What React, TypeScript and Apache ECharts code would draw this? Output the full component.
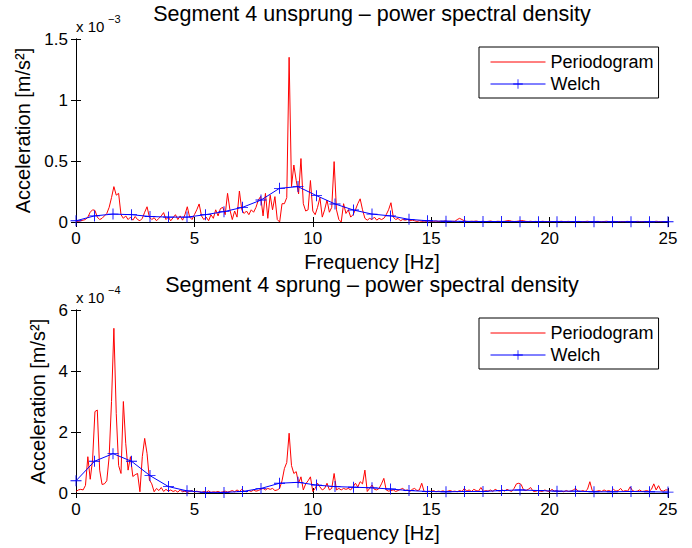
import { useEffect, useRef } from 'react';
import * as echarts from 'echarts';

// Frequency grids (Hz)
const PERIODOGRAM_STEP = 0.1;
const WELCH_STEP = 25 / 32;
const xTicks = [0, 5, 10, 15, 20, 25];

// Top panel: unsprung, values in units of 1e-3 m/s^2
const unsprungPeriodogram = [
  0.005, 0.005, 0.01, 0.015, 0.02, 0.04, 0.08, 0.1, 0.095, 0.04,
  0.02, 0.03, 0.05, 0.07, 0.12, 0.2, 0.29, 0.22, 0.235, 0.06,
  0.03, 0.05, 0.02, 0.04, 0.015, 0.045, 0.02, 0.01, 0.03, 0.08,
  0.125, 0.04, 0.02, 0.035, 0.01, 0.03, 0.05, 0.077, 0.02, 0.04,
  0.01, 0.035, 0.06, 0.02, 0.05, 0.015, 0.06, 0.125, 0.04, 0.02,
  0.06, 0.1, 0.148, 0.05, 0.02, 0.04, 0.01, 0.06, 0.03, 0.1,
  0.05, 0.11, 0.12, 0.06, 0.235, 0.1, 0.02, 0.09, 0.04, 0.254,
  0.1, 0.07, 0.09, 0.06, 0.1, 0.08, 0.12, 0.18, 0.21, 0.05,
  0.235, 0.03, 0.22, 0.1, 0.208, 0.02, 0.0, 0.15, 0.15, 0.2,
  1.35, 0.29, 0.467, 0.34, 0.23, 0.52, 0.15, 0.09, 0.1, 0.34,
  0.09, 0.06, 0.12, 0.2, 0.04, 0.1, 0.18, 0.08, 0.12, 0.495,
  0.1, 0.02, 0.0, 0.15, 0.07, 0.1, 0.04, 0.06, 0.1, 0.15,
  0.19, 0.1, 0.03, 0.015, 0.03, 0.02, 0.04, 0.015, 0.03, 0.02,
  0.03, 0.06, 0.1, 0.158, 0.04, 0.02, 0.03, 0.01, 0.02, 0.015,
  0.02, 0.01, 0.015, 0.01, 0.005, 0.01, 0.005, 0.008, 0.005, 0.01,
  0.005, 0.005, 0.008, 0.004, 0.006, 0.005, 0.01, 0.005, 0.004, 0.006,
  0.005, 0.02, 0.03, 0.02, 0.01, 0.005, 0.004, 0.006, 0.005, 0.008,
  0.004, 0.004, 0.006, 0.003, 0.005, 0.008, 0.004, 0.003, 0.006, 0.005,
  0.004, 0.006, 0.01, 0.012, 0.006, 0.004, 0.005, 0.008, 0.012, 0.01,
  0.005, 0.004, 0.006, 0.003, 0.005, 0.004, 0.003, 0.006, 0.004, 0.003,
  0.005, 0.004, 0.003, 0.005, 0.004, 0.006, 0.003, 0.004, 0.005, 0.003,
  0.004, 0.003, 0.005, 0.004, 0.003, 0.004, 0.006, 0.003, 0.004, 0.003,
  0.005, 0.004, 0.003, 0.004, 0.006, 0.004, 0.003, 0.005, 0.004, 0.003,
  0.004, 0.003, 0.004, 0.005, 0.003, 0.004, 0.003, 0.005, 0.004, 0.003,
  0.004, 0.003, 0.005, 0.004, 0.003, 0.006, 0.004, 0.003, 0.004, 0.003,
  0.003,
];
const unsprungWelch = [
  0.01, 0.05, 0.065, 0.06, 0.045, 0.04, 0.04, 0.06, 0.085, 0.12, 0.18,
  0.276, 0.29, 0.216, 0.148, 0.098, 0.065, 0.05, 0.022, 0.01, 0.006, 0.005,
  0.004, 0.004, 0.003, 0.003, 0.003, 0.003, 0.002, 0.002, 0.002, 0.002, 0.002,
];
const unsprungYTicks = [0, 0.5, 1, 1.5];

// Bottom panel: sprung, values in units of 1e-4 m/s^2
const sprungPeriodogram = [
  0.05, 0.1, 0.12, 0.1, 0.25, 1.19, 0.45, 1.08, 2.67, 2.72,
  0.75, 0.28, 0.3, 0.4, 1.19, 3.0, 5.4, 2.6, 0.9, 0.64,
  3.0, 1.63, 0.75, 1.19, 0.54, 0.6, 0.64, 0.04, 1.19, 1.79,
  1.3, 0.43, 0.3, 0.04, 0.15, 0.08, 0.18, 0.05, 0.12, 0.06,
  0.1, 0.05, 0.08, 0.03, 0.1, 0.04, 0.06, 0.02, 0.05, 0.08,
  0.03, 0.06, 0.04, 0.02, 0.05, 0.03, 0.07, 0.02, 0.04, 0.03,
  0.05, 0.02, 0.04, 0.06, 0.03, 0.05, 0.08, 0.04, 0.1, 0.05,
  0.12, 0.06, 0.04, 0.08, 0.05, 0.1, 0.06, 0.08, 0.12, 0.15,
  0.1, 0.15, 0.12, 0.15, 0.08, 0.1, 0.15, 0.4, 0.8, 1.0,
  1.96, 0.9, 0.64, 0.7, 0.32, 0.53, 0.1, 0.3, 0.4, 0.53,
  0.05, 0.15, 0.32, 0.2, 0.1, 0.15, 0.32, 0.1, 0.15, 0.64,
  0.1, 0.15, 0.1, 0.15, 0.12, 0.15, 0.1, 0.2, 0.32, 0.2,
  0.37, 0.3, 0.75, 0.05, 0.15, 0.26, 0.12, 0.1, 0.15, 0.3,
  0.48, 0.1, 0.06, 0.08, 0.1, 0.05, 0.08, 0.12, 0.15, 0.08,
  0.1, 0.05, 0.12, 0.15, 0.08, 0.1, 0.32, 0.05, 0.04, 0.06,
  0.05, 0.08, 0.04, 0.06, 0.05, 0.07, 0.04, 0.06, 0.08, 0.05,
  0.06, 0.04, 0.08, 0.05, 0.15, 0.06, 0.1, 0.05, 0.12, 0.08,
  0.06, 0.18, 0.05, 0.08, 0.06, 0.1, 0.05, 0.12, 0.08, 0.06,
  0.1, 0.06, 0.12, 0.08, 0.05, 0.15, 0.3, 0.32, 0.28, 0.1,
  0.08, 0.12, 0.18, 0.06, 0.05, 0.08, 0.06, 0.05, 0.1, 0.06,
  0.05, 0.12, 0.06, 0.08, 0.05, 0.06, 0.04, 0.08, 0.05, 0.06,
  0.1, 0.15, 0.06, 0.05, 0.08, 0.05, 0.12, 0.37, 0.08, 0.05,
  0.06, 0.08, 0.05, 0.1, 0.06, 0.08, 0.05, 0.12, 0.06, 0.08,
  0.15, 0.05, 0.08, 0.06, 0.2, 0.08, 0.05, 0.06, 0.1, 0.05,
  0.06, 0.08, 0.05, 0.12, 0.3, 0.1, 0.24, 0.08, 0.06, 0.1,
  0.1,
];
const sprungWelch = [
  0.4, 1.04, 1.29, 1.04, 0.57, 0.21, 0.07, 0.02, 0.02, 0.05, 0.15,
  0.32, 0.35, 0.26, 0.21, 0.19, 0.17, 0.13, 0.08, 0.05, 0.04, 0.05,
  0.05, 0.08, 0.1, 0.08, 0.06, 0.06, 0.04, 0.04, 0.05, 0.04, 0.03,
];
const sprungYTicks = [0, 2, 4, 6];

const titles = [
  'Segment 4 unsprung \u2013 power spectral density',
  'Segment 4 sprung \u2013 power spectral density',
];
const exponents = ['\u22123', '\u22124'];
const seriesNames = ['Periodogram', 'Welch'];

const FONT = 'Helvetica, "Liberation Sans", Arial, sans-serif';
const PLUS = 'path://M4.6,0 L5.4,0 L5.4,4.6 L10,4.6 L10,5.4 L5.4,5.4 L5.4,10 L4.6,10 L4.6,5.4 L0,5.4 L0,4.6 L4.6,4.6 Z';

const GRID_LEFT = 76;
const GRID_W = 592;
const GRID_H = 183;
const GRID_TOPS = [39, 310];

export default function App() {
  const ref = useRef<HTMLDivElement>(null);

  useEffect(() => {
    document.body.style.margin = '0';
    if (!ref.current) return;
    const chart = echarts.init(ref.current, null, { renderer: 'svg' });

    const toPeriodogram = (arr: number[]) =>
      arr.map((v, i) => [Number((i * PERIODOGRAM_STEP).toFixed(2)), v]);
    const toWelch = (arr: number[]) => arr.map((v, k) => [k * WELCH_STEP, v]);

    const yTicksList = [unsprungYTicks, sprungYTicks];
    const yNameGaps = [31, 22];

    const xAxes: any[] = [];
    const yAxes: any[] = [];
    [0, 1].forEach((g) => {
      const common = {
        gridIndex: g,
        type: 'value',
        min: xTicks[0],
        max: xTicks[xTicks.length - 1],
        interval: 5,
        splitLine: { show: false },
        axisLine: { show: true, lineStyle: { color: '#000', width: 1 } },
        axisTick: { show: true, inside: true, length: 5, lineStyle: { color: '#000' } },
      };
      xAxes.push({
        ...common,
        position: 'bottom',
        name: 'Frequency [Hz]',
        nameLocation: 'middle',
        nameGap: 30,
        nameTextStyle: { fontFamily: FONT, fontSize: 20, color: '#000' },
        axisLabel: { fontFamily: FONT, fontSize: 17, color: '#000', margin: 8 },
      });
      xAxes.push({ ...common, position: 'top', axisLabel: { show: false } });
      const yt = yTicksList[g];
      const ycommon = {
        gridIndex: g,
        type: 'value',
        min: yt[0],
        max: yt[yt.length - 1],
        interval: yt[1] - yt[0],
        splitLine: { show: false },
        axisLine: { show: true, lineStyle: { color: '#000', width: 1 } },
        axisTick: { show: true, inside: true, length: 5, lineStyle: { color: '#000' } },
      };
      yAxes.push({
        ...ycommon,
        position: 'left',
        name: 'Acceleration [m/s\u00b2]',
        nameLocation: 'middle',
        nameGap: yNameGaps[g],
        nameRotate: 90,
        nameTextStyle: { fontFamily: FONT, fontSize: 20, color: '#000' },
        axisLabel: { fontFamily: FONT, fontSize: 17, color: '#000', margin: 8 },
      });
      yAxes.push({ ...ycommon, position: 'right', axisLabel: { show: false } });
    });

    const data = [
      [unsprungPeriodogram, unsprungWelch],
      [sprungPeriodogram, sprungWelch],
    ];
    const series: any[] = [];
    [0, 1].forEach((g) => {
      series.push({
        name: seriesNames[0],
        type: 'line',
        xAxisIndex: g * 2,
        yAxisIndex: g * 2,
        data: toPeriodogram(data[g][0]),
        symbol: 'none',
        lineStyle: { color: '#ff0000', width: 1 },
        itemStyle: { color: '#ff0000' },
        z: 2,
      });
      series.push({
        name: seriesNames[1],
        type: 'line',
        xAxisIndex: g * 2,
        yAxisIndex: g * 2,
        data: toWelch(data[g][1]),
        symbol: PLUS,
        symbolSize: 11,
        showSymbol: true,
        showAllSymbol: true,
        lineStyle: { color: '#0000ff', width: 1 },
        itemStyle: { color: '#0000ff' },
        z: 3,
      });
    });

    const legends = [0, 1].map((g) => ({
      orient: 'vertical',
      left: 479,
      top: GRID_TOPS[g] + 8,
      padding: [6, 5, 5, 11],
      itemWidth: 55,
      itemHeight: 12,
      itemGap: 4,
      selectedMode: false,
      backgroundColor: '#fff',
      borderColor: '#000',
      borderWidth: 1,
      lineStyle: { width: 1 },
      textStyle: { fontFamily: FONT, fontSize: 18, color: '#000' },
      data: [
        { name: seriesNames[0], itemStyle: { opacity: 0 }, lineStyle: { width: 1 } },
        { name: seriesNames[1], lineStyle: { width: 1 } },
      ],
    }));

    const graphic: any[] = [];
    [0, 1].forEach((g) => {
      const top = GRID_TOPS[g];
      graphic.push({
        type: 'text',
        x: GRID_LEFT + GRID_W / 2,
        y: top - 25,
        style: {
          text: titles[g],
          fontFamily: FONT,
          fontSize: 21.5,
          fill: '#000',
          textAlign: 'center',
          textVerticalAlign: 'middle',
        },
      });
      graphic.push({
        type: 'text',
        left: GRID_LEFT,
        top: top - 20,
        style: { text: 'x 10', fontFamily: FONT, fontSize: 15, fill: '#000' },
      });
      graphic.push({
        type: 'text',
        left: GRID_LEFT + 32,
        top: top - 26,
        style: { text: exponents[g], fontFamily: FONT, fontSize: 11, fill: '#000' },
      });
    });

    chart.setOption({
      animation: false,
      backgroundColor: '#fff',
      grid: GRID_TOPS.map((t) => ({ left: GRID_LEFT, top: t, width: GRID_W, height: GRID_H, containLabel: false })),
      xAxis: xAxes,
      yAxis: yAxes,
      legend: legends,
      series,
      graphic,
    });

    return () => chart.dispose();
  }, []);

  return <div ref={ref} style={{ width: 692, height: 548 }} />;
}
